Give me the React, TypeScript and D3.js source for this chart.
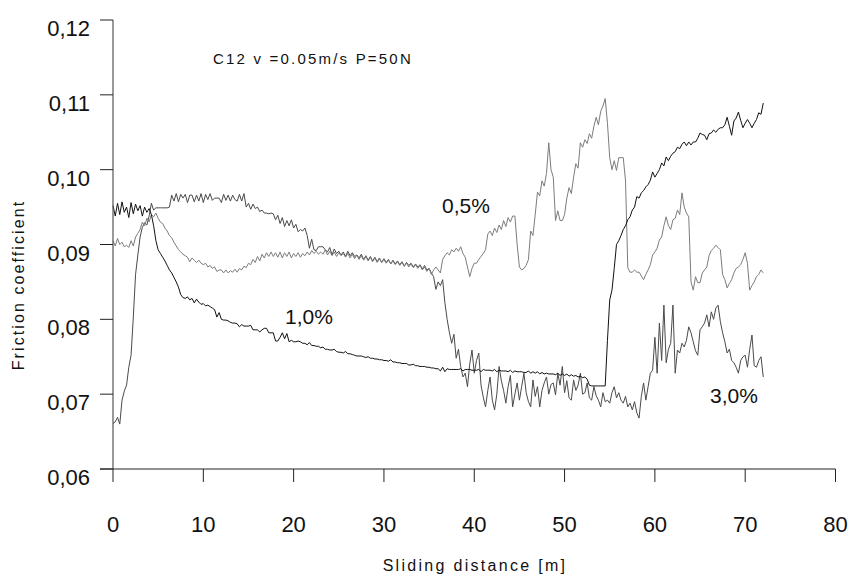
import React from "react";
import * as d3 from "d3";

const SAMPLE_STEP = 0.25;

// Friction coefficient ×10⁴, sampled every 0.25 m of sliding distance (0 … 72 m)
const mu10 = [
  952, 938, 955, 940, 957, 943, 950, 936, 956, 941, 954, 945, 952, 938, 950, 943,
  948, 940, 925, 905, 893, 888, 883, 878, 872, 866, 862, 856, 850, 843, 833, 829,
  828, 830, 826, 828, 822, 827, 823, 820, 821, 818, 819, 817, 815, 813, 803, 809,
  800, 799, 799, 798, 796, 795, 795, 794, 790, 793, 791, 791, 791, 792, 786, 786,
  786, 783, 786, 788, 788, 782, 782, 782, 771, 771, 776, 782, 774, 781, 770, 772,
  770, 770, 771, 770, 768, 768, 766, 769, 765, 765, 764, 764, 762, 763, 760, 760,
  759, 759, 760, 757, 756, 756, 755, 757, 754, 754, 753, 752, 751, 751, 751, 750,
  749, 750, 748, 748, 747, 747, 746, 746, 745, 745, 744, 746, 743, 743, 742, 742,
  741, 741, 741, 739, 739, 740, 738, 738, 737, 737, 737, 736, 736, 735, 735, 734,
  734, 731, 736, 730, 734, 733, 733, 733, 733, 733, 734, 731, 733, 733, 733, 732,
  732, 732, 733, 730, 733, 732, 732, 732, 731, 733, 730, 732, 731, 731, 731, 730,
  732, 729, 731, 730, 730, 730, 729, 729, 731, 728, 730, 728, 730, 727, 729, 727,
  728, 727, 727, 727, 726, 728, 725, 727, 725, 727, 724, 726, 724, 725, 723, 724,
  722, 723, 720, 712, 711, 711, 711, 711, 711, 711, 711, 772, 826, 839, 868, 900,
  905, 912, 920, 925, 933, 937, 946, 950, 964, 962, 969, 972, 977, 980, 986, 997,
  990, 995, 1000, 1009, 1005, 1017, 1012, 1018, 1022, 1024, 1030, 1028, 1034, 1037, 1032, 1037,
  1033, 1037, 1037, 1042, 1049, 1047, 1046, 1040, 1048, 1049, 1053, 1050, 1054, 1056, 1056, 1060,
  1070, 1058, 1046, 1065, 1069, 1077, 1066, 1056, 1062, 1067, 1062, 1056, 1062, 1067, 1076, 1074,
  1089,
];

const mu30 = [
  661, 663, 669, 660, 692, 704, 712, 736, 752, 803, 860, 886, 910, 923, 929, 926,
  938, 955, 946, 949, 949, 949, 949, 949, 949, 950, 966, 958, 968, 957, 967, 962,
  967, 956, 966, 966, 957, 966, 958, 968, 956, 967, 960, 968, 959, 962, 962, 962,
  956, 967, 959, 966, 958, 966, 960, 958, 967, 958, 968, 950, 955, 947, 954, 948,
  950, 944, 946, 942, 942, 941, 942, 941, 933, 939, 928, 936, 924, 932, 925, 933,
  922, 927, 917, 920, 918, 922, 912, 895, 907, 893, 892, 897, 897, 897, 893, 890,
  896, 886, 894, 888, 891, 886, 890, 884, 891, 885, 889, 884, 886, 882, 887, 880,
  885, 879, 884, 878, 883, 877, 882, 876, 881, 876, 880, 874, 879, 874, 878, 873,
  877, 871, 876, 872, 875, 870, 874, 870, 873, 867, 872, 866, 868, 862, 857, 840,
  850, 845, 853, 822, 800, 782, 768, 780, 748, 760, 737, 723, 728, 710, 740, 759,
  728, 745, 755, 712, 696, 683, 705, 723, 692, 679, 700, 737, 718, 705, 688, 710,
  725, 683, 700, 715, 692, 710, 728, 702, 690, 683, 719, 697, 710, 683, 705, 715,
  723, 700, 713, 715, 699, 728, 712, 737, 702, 718, 695, 692, 719, 705, 712, 728,
  700, 702, 715, 695, 692, 710, 698, 692, 683, 702, 690, 692, 688, 702, 710, 695,
  702, 692, 688, 697, 683, 688, 679, 690, 675, 668, 697, 715, 692, 710, 728, 732,
  776, 728, 795, 745, 819, 742, 760, 768, 819, 728, 759, 755, 768, 763, 772, 790,
  782, 770, 758, 752, 786, 790, 795, 806, 790, 810, 800, 815, 819, 797, 782, 770,
  755, 760, 745, 742, 736, 728, 745, 750, 752, 736, 760, 779, 738, 736, 745, 750,
  723,
];

const mu05 = [
  905, 898, 908, 900, 903, 897, 899, 896, 905, 898, 910, 915, 920, 930, 925, 935,
  930, 940, 937, 942, 935, 930, 928, 922, 918, 912, 909, 903, 898, 893, 890, 887,
  885, 883, 877, 882, 879, 876, 879, 875, 873, 875, 870, 872, 868, 870, 864, 866,
  866, 862, 866, 862, 865, 863, 867, 863, 868, 866, 871, 869, 875, 873, 880, 876,
  884, 878, 887, 882, 889, 884, 890, 884, 889, 883, 890, 882, 889, 884, 890, 882,
  888, 884, 889, 883, 888, 885, 890, 886, 892, 888, 891, 887, 890, 887, 893, 886,
  891, 885, 890, 884, 889, 885, 888, 883, 888, 882, 887, 881, 886, 880, 885, 879,
  884, 878, 883, 877, 882, 876, 881, 876, 880, 875, 879, 874, 878, 873, 877, 872,
  876, 871, 875, 870, 874, 869, 873, 868, 872, 866, 870, 864, 868, 860, 866, 870,
  866, 862, 880, 885, 889, 886, 893, 890, 895, 891, 897, 888, 883, 870, 857, 868,
  875, 875, 880, 884, 888, 893, 914, 918, 912, 922, 916, 926, 920, 932, 924, 936,
  930, 938, 938, 900, 870, 866, 868, 872, 880, 918, 912, 940, 970, 965, 985, 978,
  995, 1036, 1000, 990, 932, 945, 932, 932, 940, 962, 976, 968, 990, 1008, 1002, 1036,
  1030, 1040, 1035, 1048, 1042, 1058, 1070, 1060, 1078, 1085, 1095, 1062, 1016, 1000, 1012, 999,
  1016, 1016, 1016, 985, 869, 863, 863, 866, 863, 863, 858, 853, 860, 866, 873, 886,
  890, 895, 906, 910, 925, 937, 925, 920, 933, 935, 946, 940, 969, 950, 942, 937,
  850, 839, 857, 849, 849, 862, 866, 870, 885, 892, 895, 899, 896, 893, 860, 853,
  842, 848, 853, 862, 868, 870, 873, 880, 889, 875, 839, 845, 850, 857, 860, 866,
  862,
];

const xTickValues = [0, 10, 20, 30, 40, 50, 60, 70, 80];
const xTickLabels = ["0", "10", "20", "30", "40", "50", "60", "70", "80"];
const yTickValues = [0.06, 0.07, 0.08, 0.09, 0.1, 0.11, 0.12];
const yTickLabels = ["0,06", "0,07", "0,08", "0,09", "0,10", "0,11", "0,12"];

const seriesNames = ["3,0%", "0,5%", "1,0%"];
const seriesData = [mu30, mu05, mu10];
const seriesColors = ["#4a4a4a", "#7c7c7c", "#111111"];

const FONT = "'Liberation Sans', Arial, Helvetica, sans-serif";

export default function App() {
  const W = 850;
  const H = 578;
  const x = d3.scaleLinear().domain([0, 80]).range([113, 835.5]);
  const y = d3.scaleLinear().domain([0.06, 0.12]).range([469, 20]);

  const line = d3
    .line<number>()
    .x((_, i) => x(i * SAMPLE_STEP))
    .y((v) => y(v / 10000))
    .curve(d3.curveLinear);

  const labels = [
    { text: "0,5%", x: 442, y: 213 },
    { text: "1,0%", x: 285, y: 324 },
    { text: "3,0%", x: 710, y: 403 },
  ];

  return (
    <svg
      width={W}
      height={H}
      viewBox={`0 0 ${W} ${H}`}
      style={{ position: "absolute", left: 0, top: 0, background: "#fff" }}
      fontFamily={FONT}
    >
      <rect x={0} y={0} width={W} height={H} fill="#fff" />
      {/* series */}
      {seriesData.map((d, k) => (
        <path
          key={seriesNames[k]}
          d={line(d) || ""}
          fill="none"
          stroke={seriesColors[k]}
          strokeWidth={1}
          strokeLinejoin="miter"
        />
      ))}

      {/* y axis */}
      <line x1={x(0)} x2={x(0)} y1={y(0.12)} y2={y(0.06)} stroke="#555" strokeWidth={1.2} />
      {yTickValues.map((v, i) => (
        <g key={"yt" + i}>
          <line x1={x(0) - 13} x2={x(0)} y1={y(v)} y2={y(v)} stroke="#222" strokeWidth={1} />
          <text x={90} y={y(v) + 16} textAnchor="end" fontSize={22} fill="#111">
            {yTickLabels[i]}
          </text>
        </g>
      ))}

      {/* x axis */}
      <line x1={x(0) - 13} x2={x(80)} y1={y(0.06)} y2={y(0.06)} stroke="#222" strokeWidth={1} />
      {xTickValues.map((v, i) => (
        <g key={"xt" + i}>
          <line x1={x(v)} x2={x(v)} y1={y(0.06)} y2={y(0.06) + 13} stroke="#222" strokeWidth={1} />
          <text x={x(v)} y={532} textAnchor="middle" fontSize={22} fill="#111">
            {xTickLabels[i]}
          </text>
        </g>
      ))}

      {/* axis titles */}
      <text
        x={475}
        y={571}
        textAnchor="middle"
        fontSize={16}
        letterSpacing={2.3}
        fill="#111"
      >
        Sliding distance [m]
      </text>
      <text
        transform="translate(24,285) rotate(-90)"
        textAnchor="middle"
        fontSize={16}
        letterSpacing={2.1}
        fill="#111"
      >
        Friction coefficient
      </text>

      {/* annotation */}
      <text x={213} y={64} fontSize={15} letterSpacing={2.2} fill="#111">
        C12 v =0.05m/s P=50N
      </text>

      {/* series labels */}
      {labels.map((l) => (
        <text key={l.text} x={l.x} y={l.y} fontSize={21} fill="#111">
          {l.text}
        </text>
      ))}
    </svg>
  );
}
